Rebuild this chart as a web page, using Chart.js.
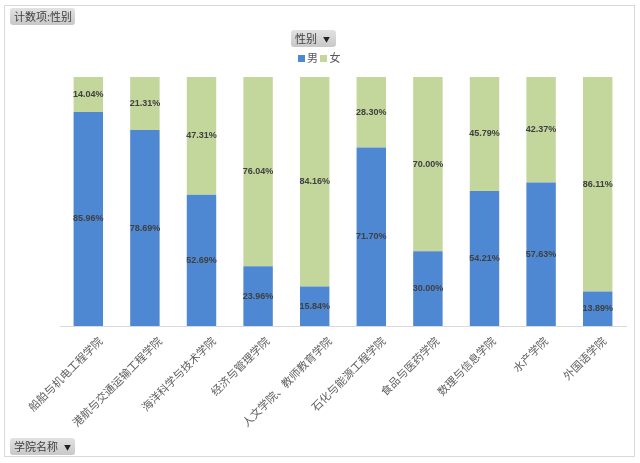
<!DOCTYPE html>
<html>
<head>
<meta charset="utf-8">
<script src="https://cdn.jsdelivr.net/npm/chart.js@4"></script>
<style>
  html, body { margin: 0; padding: 0; background: #fff; }
  body { width: 640px; height: 463px; position: relative; overflow: hidden;
         font-family: "Noto Sans CJK SC", "Noto Sans", sans-serif; }
  #frame { position: absolute; left: 4px; top: 5px; width: 631px; height: 452px;
           border: 1px solid #d9d9d9; box-sizing: border-box; }
  #wrap { position: absolute; left: 0; top: 0; width: 640px; height: 463px; }
  .btn { position: absolute; height: 17px; line-height: 17px; font-size: 11px; color: #404040;
         background: linear-gradient(#e2e2e2, #c8c8c8); border-radius: 3px;
         padding: 0 4px; box-sizing: border-box; white-space: nowrap; }
  .btn .arr { font-size: 7px; margin-left: 6px; vertical-align: 1px; color: #222; }
  #legend { position: absolute; top: 49px; left: 298px; font-size: 11px; color: #595959; white-space: nowrap; }
  #legend .sw { display: inline-block; width: 7px; height: 7px; margin-right: 2px; vertical-align: 0px; }
</style>
</head>
<body>
<div id="frame"></div>
<div id="wrap"><canvas id="genderChart" width="640" height="463"></canvas></div>
<div class="btn" style="left:10px; top:8px; width:65px;">计数项:性别</div>
<div class="btn" style="left:291px; top:30px; width:45px;">性别<span class="arr">▼</span></div>
<div class="btn" style="left:10px; top:438px; width:65px;">学院名称<span class="arr">▼</span></div>
<div id="legend"><span class="sw" style="background:#4f88d2"></span>男 <span class="sw" style="background:#c3d69b"></span>女</div>
<script>
// colleges (x axis)
let colleges = [
  "船舶与机电工程学院",
  "港航与交通运输工程学院",
  "海洋科学与技术学院",
  "经济与管理学院",
  "人文学院、教师教育学院",
  "石化与能源工程学院",
  "食品与医药学院",
  "数理与信息学院",
  "水产学院",
  "外国语学院"
];
// percent of each gender per college
let male = [85.96, 78.69, 52.69, 23.96, 15.84, 71.70, 30.00, 54.21, 57.63, 13.89];
let female = [14.04, 21.31, 47.31, 76.04, 84.16, 28.30, 70.00, 45.79, 42.37, 86.11];

// draws the % text in the middle of every bar piece
const barLabels = {
  id: 'barLabels',
  afterDatasetsDraw(chart) {
    const ctx = chart.ctx;
    ctx.save();
    ctx.font = 'bold 9px "Liberation Sans", Arial, sans-serif';
    ctx.fillStyle = '#404040';
    ctx.textAlign = 'center';
    ctx.textBaseline = 'middle';
    chart.data.datasets.forEach((ds, i) => {
      chart.getDatasetMeta(i).data.forEach((bar, j) => {
        let mid = (bar.y + bar.base) / 2;
        ctx.fillText(ds.data[j].toFixed(2) + '%', bar.x, mid);
      });
    });
    ctx.restore();
  }
};

// category labels, slanted like excel does them (longer names sit a bit further right)
const slantLabels = {
  id: 'slantLabels',
  afterDraw(chart) {
    const ctx = chart.ctx;
    const xs = chart.scales.x;
    ctx.save();
    ctx.font = '11px "Noto Sans CJK SC", sans-serif';
    ctx.fillStyle = '#5f5f5f';
    ctx.textAlign = 'right';
    ctx.textBaseline = 'middle';
    chart.data.labels.forEach((name, i) => {
      let x = xs.getPixelForTick(i) + name.length * 1.45 - 1;
      let y = xs.top + 13;
      ctx.save();
      ctx.translate(x, y);
      ctx.rotate(-Math.PI / 4);
      ctx.fillText(name, 0, 0);
      ctx.restore();
    });
    ctx.restore();
  }
};

let ctx = document.getElementById('genderChart').getContext('2d');
new Chart(ctx, {
  type: 'bar',
  data: {
    labels: colleges,
    datasets: [
      { label: '男', data: male, backgroundColor: '#4f88d2', barPercentage: 0.52, categoryPercentage: 1 },
      { label: '女', data: female, backgroundColor: '#c3d69b', barPercentage: 0.52, categoryPercentage: 1 }
    ]
  },
  options: {
    responsive: false,
    animation: false,
    events: [],
    layout: { padding: { left: 60, right: 14, top: 77, bottom: 14 } },
    plugins: { legend: { display: false }, tooltip: { enabled: false } },
    scales: {
      x: {
        stacked: true,
        grid: { display: false },
        border: { display: true, color: '#d9d9d9' },
        ticks: { display: false },
        afterFit: s => { s.height = 123; }
      },
      y: { stacked: true, min: 0, max: 100, display: false }
    }
  },
  plugins: [barLabels, slantLabels]
});
</script>
</body>
</html>
